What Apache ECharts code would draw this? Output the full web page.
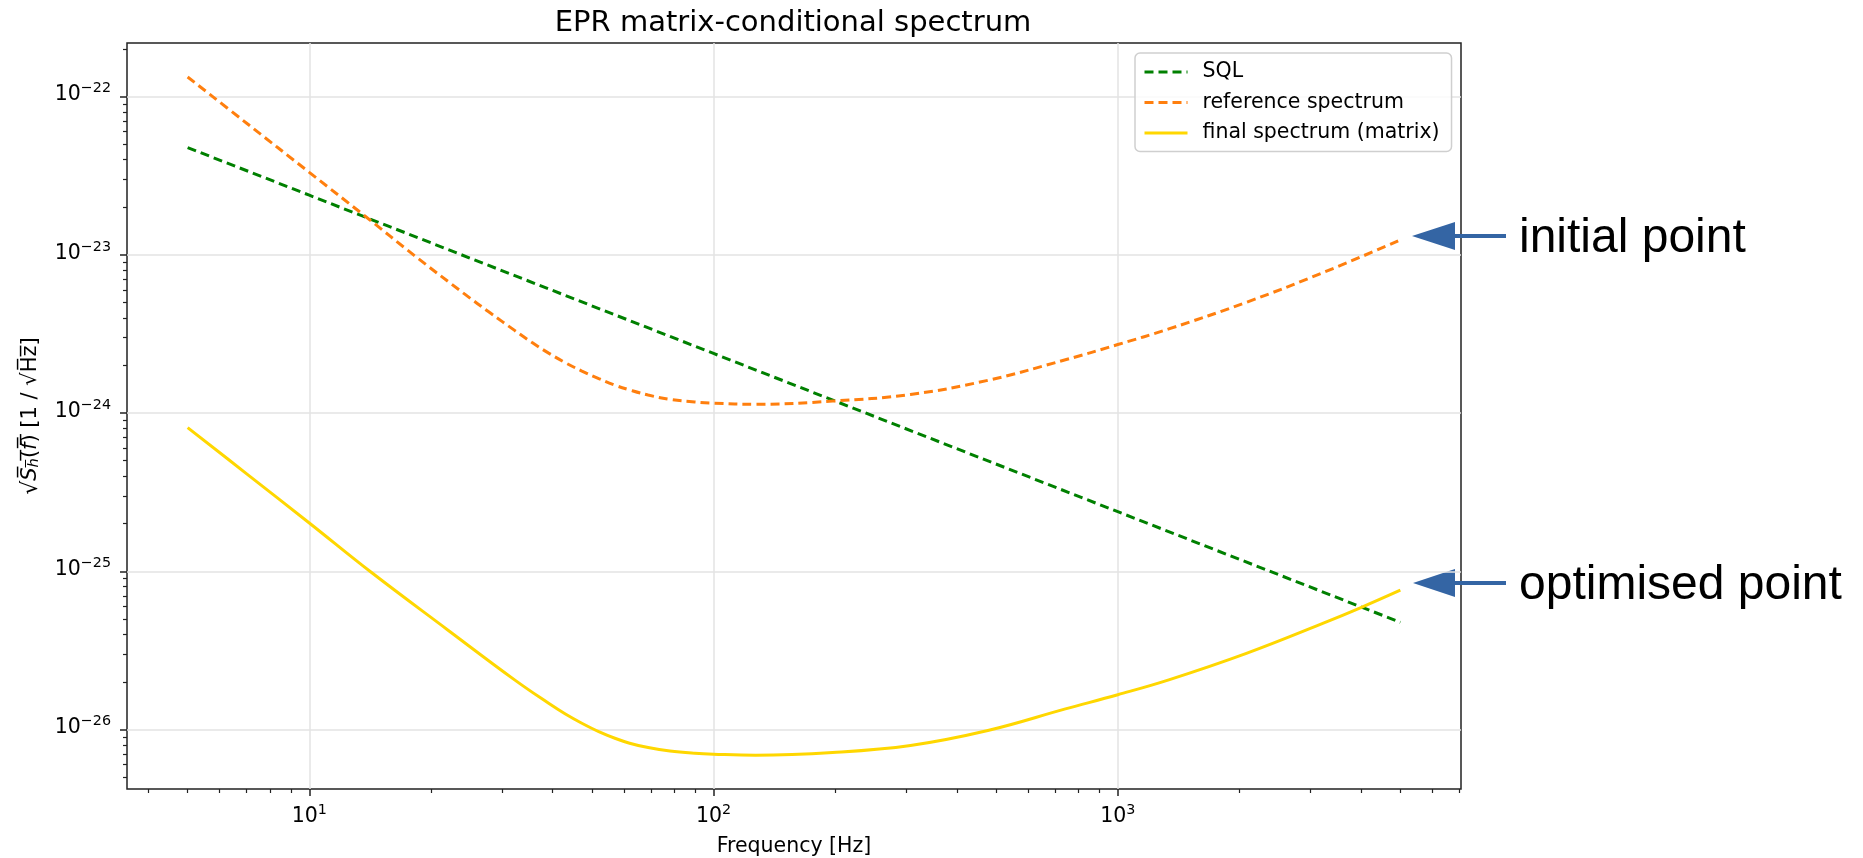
<!DOCTYPE html>
<html>
<head>
<meta charset="utf-8">
<script src="https://cdn.jsdelivr.net/npm/echarts@6/dist/echarts.min.js"></script>
<style>
  html, body { margin: 0; padding: 0; background: #fff; }
  #chart { width: 1863px; height: 858px; }
</style>
</head>
<body>
<div id="chart"></div>
<script>
// 频率 (Hz) 与振幅谱密度
const sqlFreq = [5, 10, 100, 1000, 5000];
const sqlVals = [4.76e-23, 2.38e-23, 2.38e-24, 2.38e-25, 4.76e-26];

const refFreq = [5, 7, 10, 13.8, 18.2, 24.2, 28, 32.2, 35.5, 39, 43, 47.1, 52, 57, 62, 68.9, 78, 89.9, 100, 127, 197, 307, 477, 742, 1000, 1337, 2080, 3236, 5000];
const refVals = [1.33e-22, 6.78e-23, 3.32e-23, 1.74e-23, 9.89e-24, 5.66e-24, 4.30e-24, 3.33e-24, 2.80e-24, 2.40e-24, 2.08e-24, 1.85e-24, 1.65e-24, 1.50e-24, 1.40e-24, 1.30e-24, 1.22e-24, 1.175e-24, 1.155e-24, 1.135e-24, 1.19e-24, 1.31e-24, 1.61e-24, 2.17e-24, 2.71e-24, 3.40e-24, 5.01e-24, 7.76e-24, 1.24e-23];

const finFreq = [5, 7, 10, 14.2, 22, 32.2, 39, 43, 47.1, 52, 57, 62, 68.9, 78, 89.9, 100, 127, 197, 307, 477, 742, 1000, 1337, 2080, 3236, 3981, 5000];
const finVals = [8.09e-25, 4.13e-25, 2.02e-25, 9.89e-26, 4.26e-26, 2.06e-26, 1.47e-26, 1.253e-26, 1.10e-26, 9.70e-27, 8.81e-27, 8.20e-27, 7.69e-27, 7.31e-27, 7.08e-27, 6.99e-27, 6.89e-27, 7.16e-27, 7.93e-27, 9.86e-27, 1.35e-26, 1.66e-26, 2.06e-26, 3.03e-26, 4.72e-26, 5.88e-26, 7.60e-26];

// 刻度
const xMajor = [10, 100, 1000];
const xMinor = [4, 5, 6, 7, 8, 9, 20, 30, 40, 50, 60, 70, 80, 90, 200, 300, 400, 500, 600, 700, 800, 900, 2000, 3000, 4000, 5000, 6000, 7000];
const yMajor = [1e-26, 1e-25, 1e-24, 1e-23, 1e-22];
const yMinor = [5e-27, 6e-27, 7e-27, 8e-27, 9e-27,
  2e-26, 3e-26, 4e-26, 5e-26, 6e-26, 7e-26, 8e-26, 9e-26,
  2e-25, 3e-25, 4e-25, 5e-25, 6e-25, 7e-25, 8e-25, 9e-25,
  2e-24, 3e-24, 4e-24, 5e-24, 6e-24, 7e-24, 8e-24, 9e-24,
  2e-23, 3e-23, 4e-23, 5e-23, 6e-23, 7e-23, 8e-23, 9e-23, 2e-22];

const X_MIN = 3.54, X_MAX = 7063;
const Y_MIN = 4.21e-27, Y_MAX = 2.18e-22;

// ECharts 对数轴会把极小刻度值四舍五入为 0，所以 y 值以 1e-27 为单位绘制
const Y_UNIT_EXP = -27;
const yu = v => v * Math.pow(10, -Y_UNIT_EXP);

const FONT = 'DejaVu Sans';
const INK = '#222';

const pairs = (fs, vs) => fs.map((f, i) => [f, yu(vs[i])]);

function supLabel(e) {
  return '{b|10}{s|' + (e < 0 ? '\u2212' + (-e) : e) + '}';
}
const powRich = {
  b: { fontSize: 20.5, lineHeight: 24, verticalAlign: 'bottom', fontFamily: FONT, color: '#000' },
  s: { fontSize: 14.3, lineHeight: 14, verticalAlign: 'top', fontFamily: FONT, color: '#000' }
};

const chart = echarts.init(document.getElementById('chart'));

chart.setOption({
  backgroundColor: '#fff',
  animation: false,
  title: {
    text: 'EPR matrix-conditional spectrum',
    left: 788, top: 4, textAlign: 'center',
    textStyle: { fontFamily: FONT, fontSize: 29, fontWeight: 'normal', color: '#000' }
  },
  grid: {
    left: 127, top: 43, width: 1334, height: 746, outerBoundsMode: 'none', containLabel: false,
    show: true, borderColor: INK, borderWidth: 1.5, backgroundColor: '#fff'
  },
  legend: {
    orient: 'vertical', left: 1135, top: 53,
    padding: [8.5, 12, 8, 8], itemGap: 9.5, itemWidth: 43, itemHeight: 20,
    backgroundColor: 'rgba(255,255,255,0.8)', borderColor: '#cfcfcf', borderWidth: 1.5, borderRadius: 5,
    itemStyle: { opacity: 0 },
    lineStyle: { width: 3 },
    textStyle: { fontFamily: FONT, fontSize: 20.5, color: '#000', padding: [0, 0, 0, 10] },
    data: ['SQL', 'reference spectrum', 'final spectrum (matrix)']
  },
  xAxis: [{
    type: 'log', min: X_MIN, max: X_MAX, position: 'bottom',
    name: 'Frequency [Hz]', nameLocation: 'middle', nameGap: 47,
    nameTextStyle: { fontFamily: FONT, fontSize: 20.5, color: '#000' },
    axisLine: { show: false },
    axisTick: { customValues: xMajor, length: 7, lineStyle: { color: INK, width: 1.5 } },
    axisLabel: { customValues: xMajor, margin: 14, formatter: v => supLabel(Math.round(Math.log10(v))), rich: powRich },
    splitLine: { show: true, lineStyle: { color: '#e3e3e3', width: 1.5 } }
  }, {
    type: 'log', min: X_MIN, max: X_MAX, position: 'bottom',
    axisLine: { show: false }, axisLabel: { show: false }, splitLine: { show: false },
    axisTick: { customValues: xMinor, length: 4, lineStyle: { color: INK, width: 1.2 } }
  }],
  yAxis: [{
    type: 'log', min: yu(Y_MIN), max: yu(Y_MAX), position: 'left',
    name: '{r|\u221A}{i|S\u0305}{sb|h\u0305}{n|(\u0305}{i|f\u0305}{n|)\u0305 [1 / \u221AH\u0305z\u0305]}',
    nameLocation: 'middle', nameGap: 85,
    nameTextStyle: {
      fontFamily: FONT, fontSize: 21, color: '#000',
      rich: {
        r: { fontFamily: FONT, fontSize: 22, color: '#000' },
        i: { fontFamily: FONT, fontSize: 21, fontStyle: 'italic', color: '#000' },
        sb: { fontFamily: FONT, fontSize: 14.7, fontStyle: 'italic', color: '#000', verticalAlign: 'bottom', lineHeight: 22 },
        n: { fontFamily: FONT, fontSize: 21, color: '#000' }
      }
    },
    axisLine: { show: false },
    axisTick: { customValues: yMajor.map(yu), length: 7, lineStyle: { color: INK, width: 1.5 } },
    axisLabel: {
      customValues: yMajor.map(yu), margin: 16, padding: [0, 0, 6, 0],
      formatter: v => supLabel(Math.round(Math.log10(v)) + Y_UNIT_EXP), rich: powRich
    },
    splitLine: { show: true, lineStyle: { color: '#e3e3e3', width: 1.5 } }
  }, {
    type: 'log', min: yu(Y_MIN), max: yu(Y_MAX), position: 'left',
    axisLine: { show: false }, axisLabel: { show: false }, splitLine: { show: false },
    axisTick: { customValues: yMinor.map(yu), length: 4, lineStyle: { color: INK, width: 1.2 } }
  }],
  series: [
    { name: 'SQL', type: 'line', data: pairs(sqlFreq, sqlVals), showSymbol: false, symbol: 'none',
      lineStyle: { color: '#008000', width: 3, type: [9, 5] }, itemStyle: { color: '#008000' } },
    { name: 'reference spectrum', type: 'line', data: pairs(refFreq, refVals), showSymbol: false, symbol: 'none',
      smooth: 0.4,
      lineStyle: { color: '#ff7f0e', width: 3, type: [9, 5] }, itemStyle: { color: '#ff7f0e' } },
    { name: 'final spectrum (matrix)', type: 'line', data: pairs(finFreq, finVals), showSymbol: false, symbol: 'none',
      smooth: 0.4,
      lineStyle: { color: '#ffd700', width: 3 }, itemStyle: { color: '#ffd700' } }
  ],
  graphic: [
    { type: 'line', shape: { x1: 1506, y1: 236, x2: 1450, y2: 236 }, style: { stroke: '#3465a4', lineWidth: 4 } },
    { type: 'polygon', shape: { points: [[1412, 236], [1455, 222], [1455, 250]] }, style: { fill: '#3465a4' } },
    { type: 'text', x: 1519, y: 239, style: { text: 'initial point', fontFamily: 'Liberation Sans', fontSize: 48, fill: '#000', verticalAlign: 'middle' } },
    { type: 'line', shape: { x1: 1506, y1: 583, x2: 1450, y2: 583 }, style: { stroke: '#3465a4', lineWidth: 4 } },
    { type: 'polygon', shape: { points: [[1413, 583], [1455, 569], [1455, 597]] }, style: { fill: '#3465a4' } },
    { type: 'text', x: 1519, y: 586, style: { text: 'optimised point', fontFamily: 'Liberation Sans', fontSize: 48, fill: '#000', verticalAlign: 'middle' } }
  ]
});

window.addEventListener('resize', () => chart.resize());
</script>
</body>
</html>
